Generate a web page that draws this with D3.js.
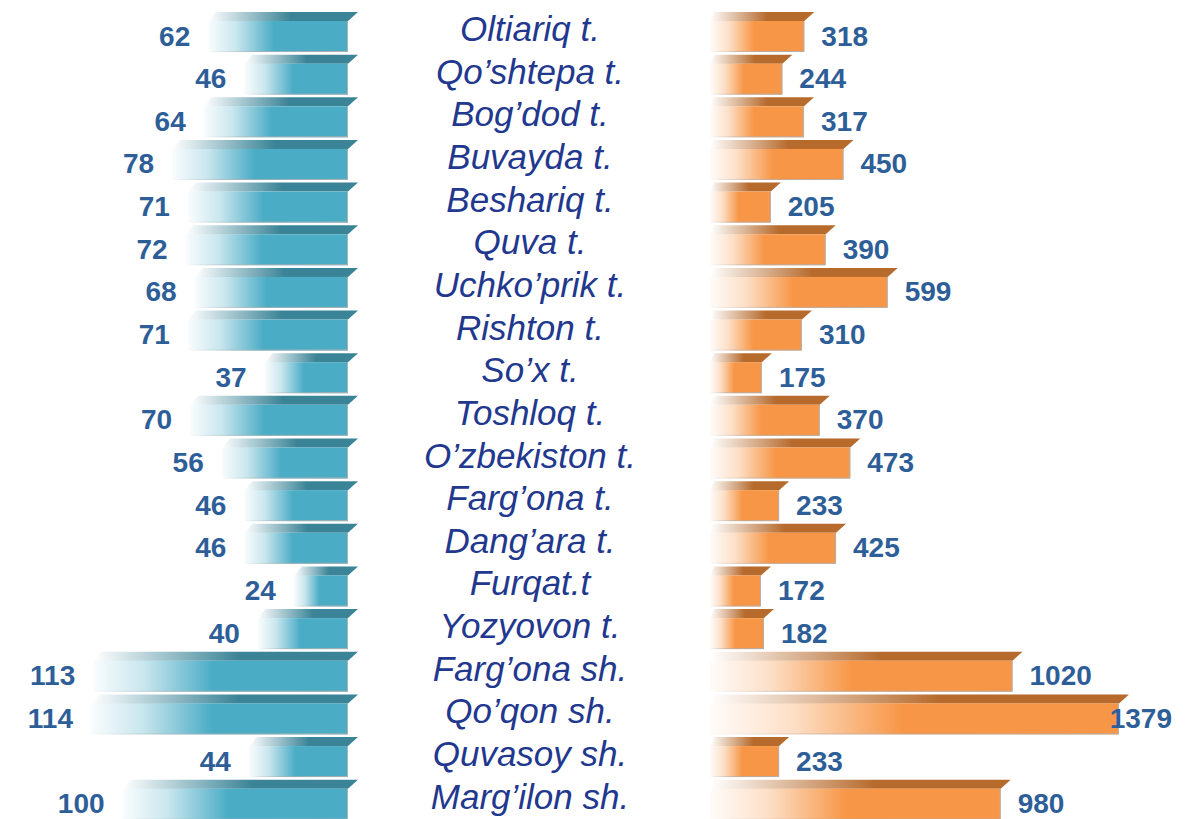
<!DOCTYPE html>
<html>
<head>
<meta charset="utf-8">
<script src="https://cdn.jsdelivr.net/npm/d3@7/dist/d3.min.js"></script>
<style>
  html, body { margin: 0; padding: 0; background: #ffffff; }
  svg { display: block; }
</style>
</head>
<body>
<script>
const categories = ["Oltiariq t.", "Qo’shtepa t.", "Bog’dod t.", "Buvayda t.", "Beshariq t.", "Quva t.",
  "Uchko’prik t.", "Rishton t.", "So’x t.", "Toshloq t.", "O’zbekiston t.", "Farg’ona t.", "Dang’ara t.",
  "Furqat.t", "Yozyovon t.", "Farg’ona sh.", "Qo’qon sh.", "Quvasoy sh.", "Marg’ilon sh."];
const leftValues = [62, 46, 64, 78, 71, 72, 68, 71, 37, 70, 56, 46, 46, 24, 40, 113, 114, 44, 100];
const rightValues = [318, 244, 317, 450, 205, 390, 599, 310, 175, 370, 473, 233, 425, 172, 182, 1020, 1379, 233, 980];

const W = 1187, H = 819;
const svg = d3.select("body").append("svg").attr("width", W).attr("height", H);
const defs = svg.append("defs");

function grad(id, stops) {
  const g = defs.append("linearGradient").attr("id", id)
    .attr("x1", "0%").attr("x2", "100%").attr("y1", "0%").attr("y2", "0%");
  stops.forEach(s => g.append("stop").attr("offset", s[0]).attr("stop-color", s[1]).attr("stop-opacity", s[2]));
}
grad("tealFront", [[0, "#4BACC6", 0.03], [0.2, "#4BACC6", 0.3], [0.47, "#4BACC6", 1], [1, "#4BACC6", 1]]);
grad("tealTop", [[0, "#3B8497", 0.0], [0.25, "#3B8497", 0.45], [0.55, "#3B8497", 1], [1, "#3B8497", 1]]);
grad("orangeFront", [[0, "#F79646", 0.03], [0.2, "#F79646", 0.3], [0.47, "#F79646", 1], [1, "#F79646", 1]]);
grad("orangeTop", [[0, "#B66A2C", 0.0], [0.25, "#B66A2C", 0.45], [0.55, "#B66A2C", 1], [1, "#B66A2C", 1]]);
grad("edge", [[0, "#b0b0b0", 0.0], [0.3, "#b0b0b0", 0.6], [1, "#b0b0b0", 1]]);

const y = d3.scaleBand().domain(categories).range([12, 12 + 19 * 42.65]).paddingInner(0);
const topH = 9, faceH = 31, slant = 10;

const xL = d3.scaleLinear().domain([0, 114]).range([348, 91]);
const xR = d3.scaleLinear().domain([0, 1379]).range([710, 1119]);

const font = "Arial, 'Liberation Sans', sans-serif";
const valueColor = "#2E5E98";

const rows = categories.map((c, i) => ({ c, l: leftValues[i], r: rightValues[i] }));

// Left bars
const gl = svg.append("g");
rows.forEach(d => {
  const t = y(d.c);
  const x0 = xL(d.l), x1 = xL(0);
  gl.append("path")
    .attr("d", `M${x0 + 8},${t} L${x1 + slant},${t} L${x1},${t + topH} L${x0},${t + topH} Z`)
    .attr("fill", "url(#tealTop)");
  gl.append("rect").attr("x", x0).attr("y", t + topH).attr("width", x1 - x0).attr("height", faceH)
    .attr("fill", "url(#tealFront)");
  gl.append("path")
    .attr("d", `M${x0},${t + topH + faceH - 0.5} L${x1 - 0.5},${t + topH + faceH - 0.5} L${x1 - 0.5},${t + topH}`)
    .attr("fill", "none").attr("stroke", "url(#edge)").attr("stroke-width", 1);
  gl.append("text")
    .attr("x", x0 - 18).attr("y", t + 33.5)
    .attr("text-anchor", "end")
    .attr("font-family", font).attr("font-weight", "bold").attr("font-size", 28)
    .attr("fill", valueColor)
    .text(d.l);
});

// Right bars
const gr = svg.append("g");
rows.forEach(d => {
  const t = y(d.c);
  const x0 = xR(0), x1 = xR(d.r);
  gr.append("path")
    .attr("d", `M${x0 + 4},${t} L${x1 + slant},${t} L${x1},${t + topH} L${x0},${t + topH} Z`)
    .attr("fill", "url(#orangeTop)");
  gr.append("rect").attr("x", x0).attr("y", t + topH).attr("width", x1 - x0).attr("height", faceH)
    .attr("fill", "url(#orangeFront)");
  gr.append("path")
    .attr("d", `M${x0},${t + topH + faceH - 0.5} L${x1 - 0.5},${t + topH + faceH - 0.5} L${x1 - 0.5},${t + topH}`)
    .attr("fill", "none").attr("stroke", "url(#edge)").attr("stroke-width", 1);
  const txt = gr.append("text")
    .attr("x", x1 + 17).attr("y", t + 33.5)
    .attr("text-anchor", "start")
    .attr("font-family", font).attr("font-weight", "bold").attr("font-size", 28)
    .attr("fill", valueColor)
    .text(d.r);
  const len = txt.node().getComputedTextLength();
  if (x1 + 17 + len > 1172) {
    txt.attr("x", 1172).attr("text-anchor", "end");
  }
});

// Category labels
svg.append("g").selectAll("text").data(categories).join("text")
  .attr("x", 530)
  .attr("y", d => y(d) + 29)
  .attr("text-anchor", "middle")
  .attr("font-family", font).attr("font-style", "italic").attr("font-size", 35)
  .attr("fill", "#22388E")
  .text(d => d);
</script>
</body>
</html>
